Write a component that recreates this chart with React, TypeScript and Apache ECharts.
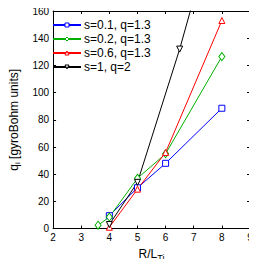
import React, { useEffect, useRef } from "react";
import * as echarts from "echarts";

const seriesNames = ["s=0.1, q=1.3", "s=0.2, q=1.3", "s=0.6, q=1.3", "s=1, q=2"];
const blueData: [number, number][] = [[4, 9.5], [5, 30], [6, 48], [8, 88.5]];
const greenData: [number, number][] = [[3.6, 2.5], [4, 8.5], [5, 37], [6, 55], [8, 126.5]];
const redData: [number, number][] = [[4, 1], [5, 29], [6, 56], [8, 153]];
const blackData: [number, number][] = [[4, 3], [5, 34], [6.5, 132], [7, 169]];
const xTicks = [2, 3, 4, 5, 6, 7, 8, 9];
const yTicks = [0, 20, 40, 60, 80, 100, 120, 140, 160];

const colors = ["#0000ff", "#00b000", "#ff0000", "#000000"];
const symbols = ["rect", "diamond", "triangle", "triangle"];
const font = "Liberation Sans";

export default function App() {
  const ref = useRef<HTMLDivElement>(null);
  useEffect(() => {
    if (!ref.current) return;
    const chart = echarts.init(ref.current, undefined, { renderer: "svg" });
    const datas = [blueData, greenData, redData, blackData];
    const axisCommon = {
      axisLine: { show: true, onZero: false, lineStyle: { color: "#000", width: 1 } },
      axisTick: { show: true, inside: true, length: 3, lineStyle: { color: "#000" } },
      splitLine: { show: false },
    };
    chart.setOption({
      animation: false,
      backgroundColor: "#fff",
      textStyle: { fontFamily: font },
      grid: { left: 42, right: 7, top: 11, bottom: 31 },
      legend: {
        orient: "vertical",
        left: 52,
        top: 18,
        padding: 0,
        itemWidth: 28,
        itemHeight: 5,
        itemGap: 0,
        data: seriesNames.map((n, i) => ({
          name: n,
          itemStyle: { color: "#fff", borderColor: colors[i], borderWidth: 1 },
        })),
        textStyle: { fontSize: 12, lineHeight: 14, color: "#000", fontFamily: font, padding: [0, 0, 0, -2] },
      },
      xAxis: [
        {
          type: "value",
          min: xTicks[0],
          max: xTicks[xTicks.length - 1],
          interval: 1,
          ...axisCommon,
          axisLabel: {
            fontSize: 10,
            color: "#000",
            margin: 4,
            fontFamily: font,
            formatter: (v: number) => String(Math.round(v)),
          },
          name: "{a|R/L}{b|Ti}",
          nameLocation: "middle",
          nameGap: 14,
          nameTextStyle: {
            rich: {
              a: { fontSize: 12, color: "#000", fontFamily: font },
              b: { fontSize: 9, color: "#000", fontFamily: font, padding: [8, 0, 0, 0] },
            },
          },
        },
        {
          type: "value",
          position: "top",
          min: xTicks[0],
          max: xTicks[xTicks.length - 1],
          interval: 1,
          ...axisCommon,
          axisLabel: { show: false },
        },
      ],
      yAxis: [
        {
          type: "value",
          min: yTicks[0],
          max: yTicks[yTicks.length - 1],
          interval: 20,
          ...axisCommon,
          axisLabel: {
            fontSize: 10,
            color: "#000",
            margin: 4,
            fontFamily: font,
            formatter: (v: number) => String(Math.round(v)),
          },
          name: "{a|q}{b|i}{a| [gyroBohm units]}",
          nameLocation: "middle",
          nameGap: 25,
          nameTextStyle: {
            rich: {
              a: { fontSize: 12, color: "#000", fontFamily: font },
              b: { fontSize: 8, color: "#000", fontFamily: font, padding: [7, 0, 0, 0] },
            },
          },
        },
        {
          type: "value",
          position: "right",
          min: yTicks[0],
          max: yTicks[yTicks.length - 1],
          interval: 20,
          ...axisCommon,
          axisLabel: { show: false },
        },
      ],
      series: datas.map((d, i) => ({
        name: seriesNames[i],
        type: "line",
        data: d,
        clip: true,
        color: colors[i],
        symbol: symbols[i],
        symbolSize: i === 1 ? [6, 8] : 6,
        symbolRotate: i === 3 ? 180 : 0,
        lineStyle: { color: colors[i], width: 1 },
        itemStyle: {
          color: "#fff",
          borderColor: colors[i],
          borderWidth: 1,
        },
        emphasis: { disabled: true },
      })),
    });
    return () => chart.dispose();
  }, []);
  return <div ref={ref} style={{ width: 257, height: 267, margin: -8 }} />;
}
